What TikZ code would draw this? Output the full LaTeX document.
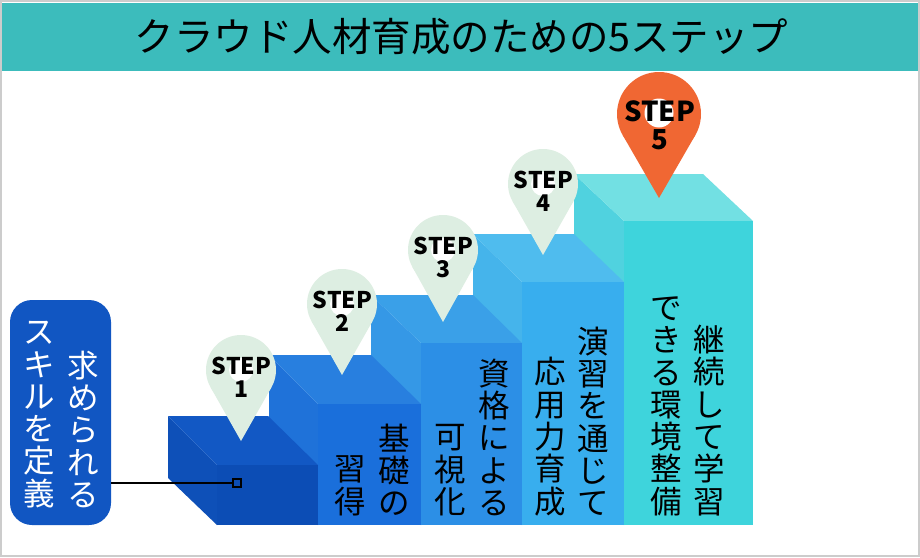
\documentclass[tikz,border=0pt]{standalone}
\usepackage{fontspec}
\setmainfont{Noto Sans CJK JP}
\usetikzlibrary{calc}
\setlength{\lineskiplimit}{-20pt}

\definecolor{bandcol}{HTML}{3CBCBC}
\definecolor{skillcol}{HTML}{1156C2}
\definecolor{pincol}{HTML}{DDEEE2}
\definecolor{pinfive}{HTML}{F06733}
\definecolor{left5}{HTML}{50D2DF}\definecolor{top5}{HTML}{72E0E3}\definecolor{front5}{HTML}{3ED4DC}
\definecolor{left4}{HTML}{45B4EB}\definecolor{top4}{HTML}{4FBCEE}\definecolor{front4}{HTML}{38AEEE}
\definecolor{left3}{HTML}{3598E6}\definecolor{top3}{HTML}{3AA0E8}\definecolor{front3}{HTML}{2C8FE6}
\definecolor{left2}{HTML}{1F72D9}\definecolor{top2}{HTML}{287FDF}\definecolor{front2}{HTML}{1A6FDB}
\definecolor{left1}{HTML}{0E50B8}\definecolor{top1}{HTML}{1258C4}\definecolor{front1}{HTML}{0C4DB5}

\begin{document}
\begin{tikzpicture}[x=1pt,y=-1pt,
  column/.style={anchor=south,inner sep=0pt,align=center,font=\fontsize{31.5}{32.3}\selectfont},
  pinhead/.style={circle,inner sep=0pt,outer sep=0pt,minimum size=70pt,fill=pincol},
  pinhole/.style={circle,inner sep=0pt,outer sep=0pt,minimum size=24pt,fill=white},
  steplabel/.style={inner sep=0pt,align=center,font=\fontsize{23}{23.5}\bfseries\selectfont}]

\useasboundingbox (0,0) rectangle (920,557);
\draw[draw=black!20,line width=2pt,fill=white] (1,1) rectangle (919,556);

% title band
\fill[bandcol] (2,3) rectangle (918,71);
\node[font=\fontsize{39.5}{40}\selectfont,inner sep=0pt] (title) at (461.5,37) {クラウド人材育成のための5ステップ};

% step 5 (drawn first, the lower steps lie over it)
\fill[left5] (574,174) -- (624,221) -- (624,525) -- (574,480) -- cycle;
\fill[top5] (574,174) -- (703,174) -- (753,221) -- (624,221) -- cycle;
\fill[front5] (624,221) rectangle (753,525);
% step 4
\fill[left4] (473,234) -- (522,282) -- (522,525) -- (473,480) -- cycle;
\fill[top4] (473,234) -- (574,234) -- (624,282) -- (522,282) -- cycle;
\fill[front4] (522,282) rectangle (624,525);
% step 3
\fill[left3] (371,295) -- (421,343) -- (421,525) -- (371,480) -- cycle;
\fill[top3] (371,295) -- (473,295) -- (522,343) -- (421,343) -- cycle;
\fill[front3] (421,343) rectangle (522,525);
% step 2
\fill[left2] (269,355) -- (318,404) -- (318,525) -- (269,480) -- cycle;
\fill[top2] (269,355) -- (371,355) -- (421,404) -- (318,404) -- cycle;
\fill[front2] (318,404) rectangle (421,525);
% step 1
\fill[left1] (168,416) -- (217,465) -- (217,525) -- (168,478) -- cycle;
\fill[top1] (168,416) -- (268,416) -- (318,465) -- (217,465) -- cycle;
\fill[front1] (217,465) rectangle (318,525);

% texts on the steps
\node[column] (t2a) at (394,516) {基\\礎\\の};
\node[column] (t2b) at (350,516) {習\\得};
\node[column] (t3a) at (494,516) {資\\格\\に\\よ\\る};
\node[column] (t3b) at (450,516) {可\\視\\化};
\node[column] (t4a) at (593,516) {演\\習\\を\\通\\じ\\て};
\node[column] (t4b) at (550,516) {応\\用\\力\\育\\成};
\node[column] (t5a) at (709,516) {継\\続\\し\\て\\学\\習};
\node[column] (t5b) at (666,516) {で\\き\\る\\環\\境\\整\\備};

% box on the left
\node[fill=skillcol,rounded corners=22pt,minimum width=101pt,minimum height=225pt,inner sep=0pt] (skill) at (60.5,412.5) {};
\node[column,text=white] (s1) at (83,508) {求\\め\\ら\\れ\\る};
\node[column,text=white] (s2) at (39,508) {ス\\キ\\ル\\を\\定\\義};
\node[draw=black,line width=2pt,inner sep=0pt,minimum size=8pt] (mark) at (237,483) {};
\draw[line width=2pt] (mark -| skill.east) -- (mark);

% pins
\node[pinhead] (pin1) at (241,370) {};
\coordinate (tip1) at (241,441);
\fill[pincol] (tip1) -- (tangent cs:node=pin1,point={(tip1)},solution=1) -- (tangent cs:node=pin1,point={(tip1)},solution=2) -- cycle;
\node[pinhole] (hole1) at (241,370) {};
\node[steplabel] (lab1) at (241.5,377.5) {STEP\\1};

\node[pinhead] (pin2) at (342,304) {};
\coordinate (tip2) at (342,375);
\fill[pincol] (tip2) -- (tangent cs:node=pin2,point={(tip2)},solution=1) -- (tangent cs:node=pin2,point={(tip2)},solution=2) -- cycle;
\node[pinhole] (hole2) at (342,304) {};
\node[steplabel] (lab2) at (342.5,311.5) {STEP\\2};

\node[pinhead] (pin3) at (443,250) {};
\coordinate (tip3) at (443,322);
\fill[pincol] (tip3) -- (tangent cs:node=pin3,point={(tip3)},solution=1) -- (tangent cs:node=pin3,point={(tip3)},solution=2) -- cycle;
\node[pinhole] (hole3) at (443,250) {};
\node[steplabel] (lab3) at (443.5,257.5) {STEP\\3};

\node[pinhead] (pin4) at (543,184) {};
\coordinate (tip4) at (543,255);
\fill[pincol] (tip4) -- (tangent cs:node=pin4,point={(tip4)},solution=1) -- (tangent cs:node=pin4,point={(tip4)},solution=2) -- cycle;
\node[pinhole] (hole4) at (543,184) {};
\node[steplabel] (lab4) at (543.5,191.5) {STEP\\4};

\node[pinhead,fill=pinfive,minimum size=84pt] (pin5) at (659,114) {};
\coordinate (tip5) at (659,198);
\fill[pinfive] (tip5) -- (tangent cs:node=pin5,point={(tip5)},solution=1) -- (tangent cs:node=pin5,point={(tip5)},solution=2) -- cycle;
\node[pinhole,minimum size=29pt] (hole5) at (659,113) {};
\node[steplabel,font=\fontsize{27.5}{28}\bfseries\selectfont] (lab5) at (659.5,125) {STEP\\5};
\end{tikzpicture}
\end{document}
